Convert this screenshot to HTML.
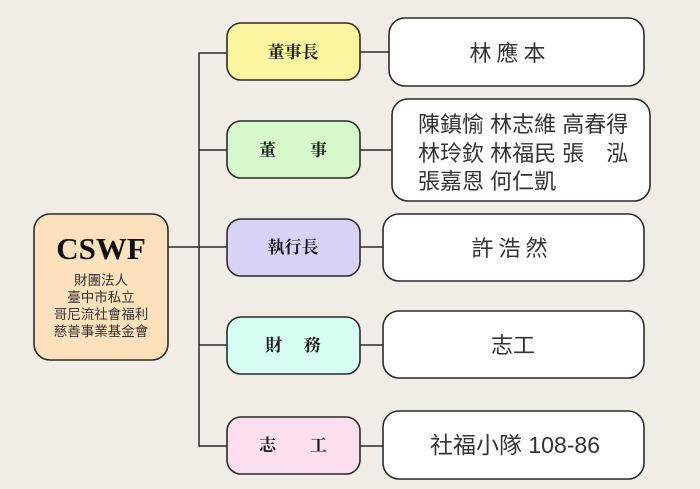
<!DOCTYPE html>
<html><head><meta charset="utf-8"><style>
html,body{margin:0;padding:0;background:#f1ede6;}
svg{display:block}
.r{font-family:"Liberation Serif","Noto Serif CJK SC",serif;font-weight:bold;fill:#1a1a1a;}
.n{font-family:"Liberation Sans","Noto Sans CJK TC",sans-serif;fill:#333;}
</style></head><body>
<svg width="700" height="489" viewBox="0 0 700 489" xmlns="http://www.w3.org/2000/svg">
<rect width="700" height="489" fill="#f1ede6"/>
<g stroke="#2b2b2b" stroke-width="1.5" fill="none">
<path d="M227 53 H199 V446 H227"/>
<path d="M168 247 H227"/>
<path d="M199 150 H227 M199 345 H227"/>
<path d="M360 52 H389 M360 150 H392 M360 247 H383 M360 345 H383 M360 446 H383"/>
</g>
<g stroke="#2b2b2b" stroke-width="1.6">
<rect x="34" y="214" width="134" height="146" rx="16" fill="#fde0bc"/>
<rect x="227" y="23" width="133" height="57" rx="14" fill="#fbf59f"/>
<rect x="227" y="121" width="133" height="57" rx="14" fill="#d6f8cc"/>
<rect x="227" y="219" width="133" height="57" rx="14" fill="#d7d2f6"/>
<rect x="227" y="317" width="133" height="57" rx="14" fill="#d6fcf3"/>
<rect x="227" y="417" width="133" height="57" rx="14" fill="#fbdfee"/>
<rect x="389" y="18" width="255" height="68" rx="16" fill="#fff"/>
<rect x="392" y="99" width="258" height="102" rx="16" fill="#fff"/>
<rect x="383" y="214" width="261" height="67" rx="16" fill="#fff"/>
<rect x="383" y="311" width="261" height="67" rx="16" fill="#fff"/>
<rect x="383" y="411" width="261" height="68" rx="16" fill="#fff"/>
</g>
<text x="101" y="259" text-anchor="middle" font-family="Liberation Serif,serif" font-weight="bold" font-size="31" fill="#111">CSWF</text>
<g class="n" font-size="13.5" text-anchor="middle" fill="#222">
<text x="101" y="285">財團法人</text>
<text x="101" y="302">臺中市私立</text>
<text x="101" y="319">哥尼流社會福利</text>
<text x="101" y="336">慈善事業基金會</text>
</g>
<g class="r" font-size="17" text-anchor="middle">
<text x="293" y="58">董事長</text>
<text x="293" y="156" xml:space="preserve">董　　事</text>
<text x="293" y="253">執行長</text>
<text x="293" y="351" xml:space="preserve">財　 務</text>
<text x="293" y="451" xml:space="preserve">志　　工</text>
</g>
<g class="n" font-size="22">
<text x="510" y="61" text-anchor="middle" letter-spacing="5">林應本</text>
<text x="418" y="132">陳鎮愉 林志維 高春得</text>
<text x="418" y="161" xml:space="preserve">林玲欽 林福民 張　泓</text>
<text x="418" y="189">張嘉恩 何仁凱</text>
<text x="512" y="256" text-anchor="middle" letter-spacing="5">許浩然</text>
<text x="513" y="353" text-anchor="middle">志工</text>
<text x="515" y="453" text-anchor="middle" font-size="23">社福小隊 108-86</text>
</g>
</svg>
</body></html>
